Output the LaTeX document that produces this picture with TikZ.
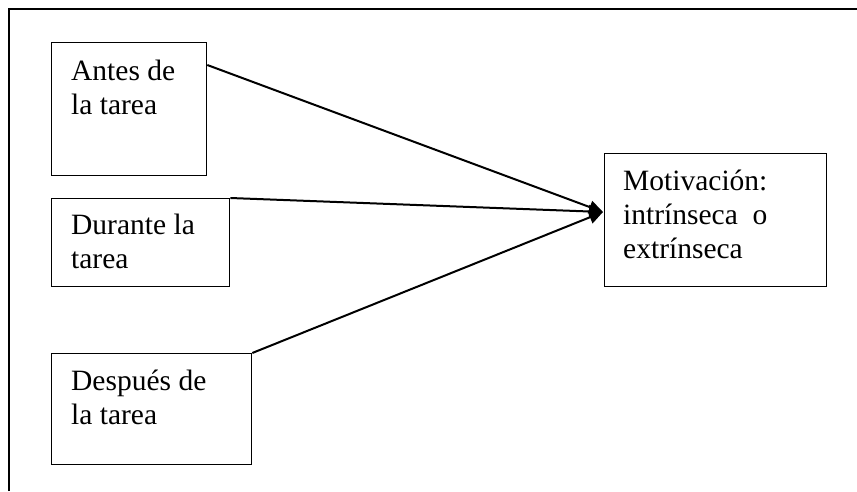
\documentclass[tikz,border=0pt]{standalone}
\usepackage{fontspec}
\setmainfont{Liberation Serif}
\usetikzlibrary{arrows.meta,calc}
\begin{document}
\begin{tikzpicture}[x=1pt,y=-1pt,
  box/.style={draw,line width=1.3pt,anchor=north west,inner sep=0pt},
  txt/.style={anchor=base west,inner sep=0pt,align=left,font=\fontsize{29.5}{34}\selectfont},
  conn/.style={line width=2pt,-{Triangle[length=14pt,width=13pt]}}]
\useasboundingbox (0,0) rectangle (857,491);
\draw[line width=1.5pt] (9,491) -- (9,9) -- (857,9);
\node[box,minimum width=155pt,minimum height=133pt] (antes) at (51,42) {};
\node[box,minimum width=178pt,minimum height=88pt] (durante) at (51,198) {};
\node[box,minimum width=200pt,minimum height=111pt] (despues) at (51,353) {};
\node[box,minimum width=222pt,minimum height=133pt] (motiv) at (604,153) {};
\node[txt] (antesT) at (71,114) {Antes de\\la tarea};
\node[txt] (duranteT) at (71,268) {Durante la\\tarea};
\node[txt] (despuesT) at (71,424) {Después de\\la tarea};
\node[txt] (motivT) at (623,258) {Motivación:\\intrínseca~ o\\extrínseca};
\coordinate (tip) at ($(motiv.north west)+(-1,59)$);
\coordinate (antesOut) at ($(antes.north east)+(0,23)$);
\draw[conn] (antesOut) -- (tip);
\draw[conn] (durante.north east) -- (tip);
\draw[conn] (despues.north east) -- (tip);
\end{tikzpicture}
\end{document}
